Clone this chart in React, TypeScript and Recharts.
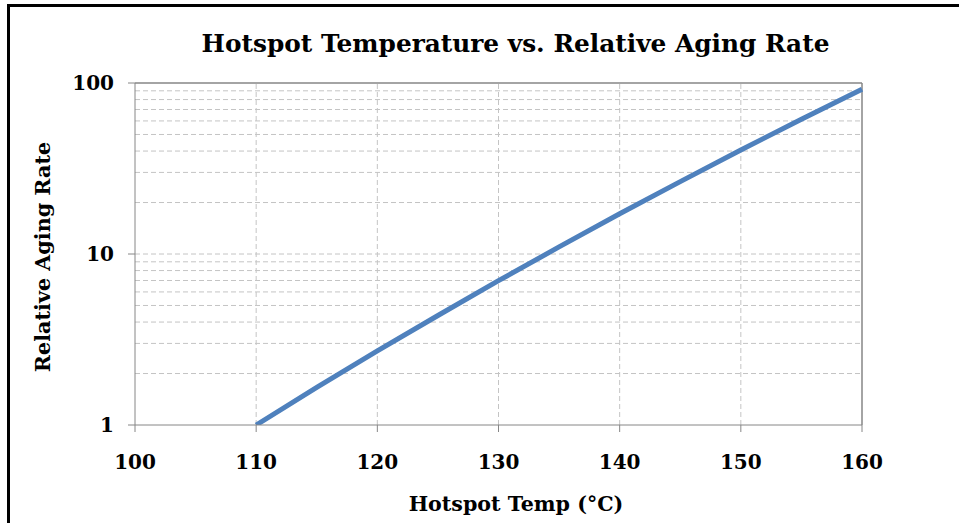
import { LineChart, Line, XAxis, YAxis, ReferenceLine } from 'recharts'

// hotspot temperature (°C) vs relative aging rate
const temps = [110, 115, 120, 125, 130, 135, 140, 145, 150, 155, 160]
const agingRate = [1, 1.66, 2.71, 4.37, 6.98, 11.0, 17.2, 26.5, 40.6, 61.4, 92.0]

const xTicks = [100, 110, 120, 130, 140, 150, 160]
const yTicks = [1, 10, 100]
const yGridLines = [2, 3, 4, 5, 6, 7, 8, 9, 10, 20, 30, 40, 50, 60, 70, 80, 90]
const xGridLines = [110, 120, 130, 140, 150]

const data = temps.map((t, i) => ({ temp: t, rate: agingRate[i] }))

const FONT = '"DejaVu Serif", "Liberation Serif", serif'
const AXIS = '#868686'
const GRID = '#c4c4c4'

const tickStyle = { fontSize: 20, fontWeight: 700, fill: '#000', fontFamily: FONT }

export default function App() {
  return (
    <div style={{ position: 'fixed', left: 0, top: 0, width: 959, height: 523, background: '#fff', overflow: 'hidden' }}>
      <div
        style={{
          position: 'absolute',
          left: 7,
          top: 4,
          width: 960,
          height: 530,
          borderLeft: '3px solid #000',
          borderTop: '3px solid #000',
        }}
      />
      <div
        style={{
          position: 'absolute',
          left: 0,
          width: 1031,
          top: 29,
          textAlign: 'center',
          fontFamily: FONT,
          fontWeight: 700,
          fontSize: 24.8,
          color: '#000',
        }}
      >
        Hotspot Temperature vs. Relative Aging Rate
      </div>
      <div
        style={{
          position: 'absolute',
          left: 43,
          top: 257,
          transform: 'translate(-50%, -50%) rotate(-90deg)',
          whiteSpace: 'nowrap',
          fontFamily: FONT,
          fontWeight: 700,
          fontSize: 20.7,
          color: '#000',
        }}
      >
        Relative Aging Rate
      </div>
      <div
        style={{
          position: 'absolute',
          left: 0,
          width: 1032,
          top: 492,
          textAlign: 'center',
          fontFamily: FONT,
          fontWeight: 700,
          fontSize: 20.6,
          color: '#000',
        }}
      >
        Hotspot Temp (°C)
      </div>
      <div style={{ position: 'absolute', left: 0, top: 0 }}>
        <LineChart width={959} height={523} data={data} margin={{ top: 83, right: 97, left: 35, bottom: 38 }}>
          {yGridLines.map((v) => (
            <ReferenceLine key={'h' + v} y={v} stroke={GRID} strokeDasharray="5 3" />
          ))}
          {xGridLines.map((v) => (
            <ReferenceLine key={'v' + v} x={v} stroke={GRID} strokeDasharray="5 3" />
          ))}
          <ReferenceLine y={100} stroke={AXIS} strokeWidth={1.5} />
          <ReferenceLine x={160} stroke={AXIS} strokeWidth={1.5} />
          <XAxis
            dataKey="temp"
            type="number"
            domain={[100, 160]}
            ticks={xTicks}
            interval={0}
            height={60}
            stroke={AXIS}
            tickSize={7}
            tickMargin={23}
            tick={tickStyle}
          />
          <YAxis
            dataKey="rate"
            scale="log"
            domain={[1, 100]}
            ticks={yTicks}
            interval={0}
            allowDataOverflow
            width={100}
            stroke={AXIS}
            tickSize={7}
            tickMargin={14}
            tick={tickStyle}
          />
          <Line
            type="linear"
            dataKey="rate"
            stroke="#4f81bd"
            strokeWidth={5}
            dot={false}
            isAnimationActive={false}
          />
        </LineChart>
      </div>
    </div>
  )
}
